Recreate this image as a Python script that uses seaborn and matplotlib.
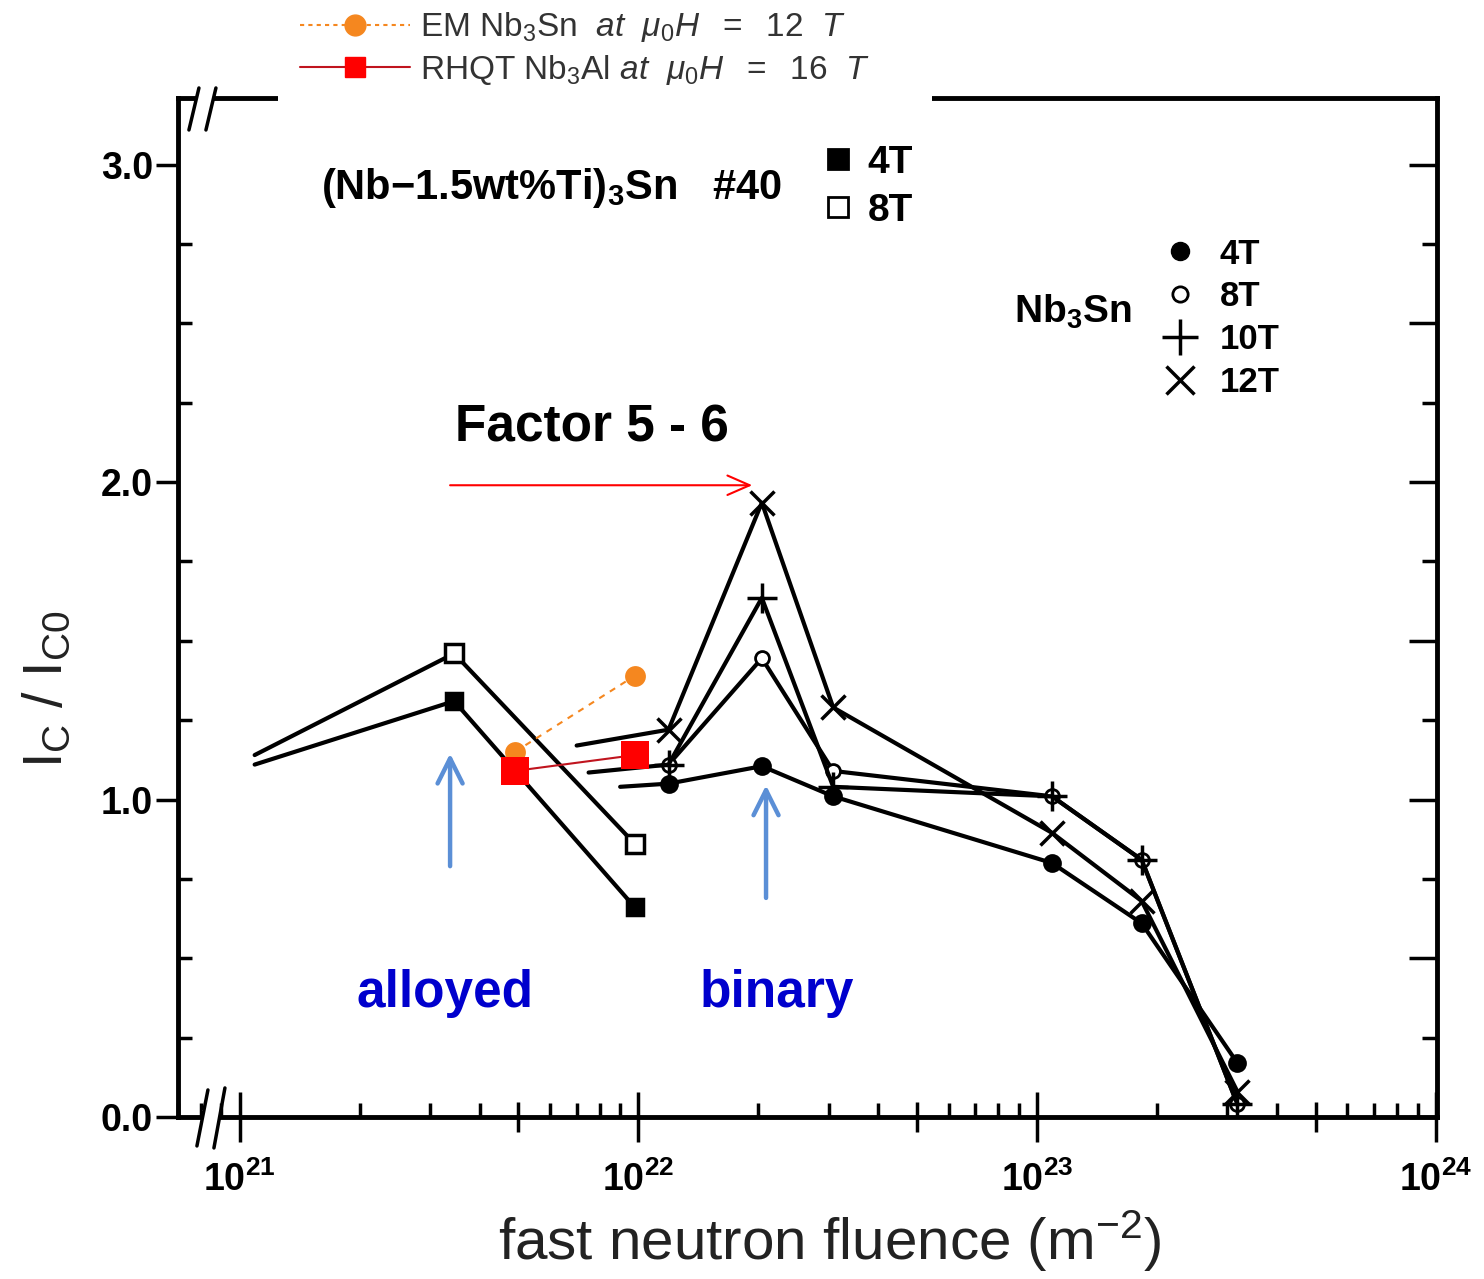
import matplotlib
matplotlib.use('Agg')
import numpy as np
import matplotlib.pyplot as plt
import seaborn as sns
from matplotlib.lines import Line2D
from matplotlib.patches import Rectangle
from matplotlib.ticker import LogLocator, MultipleLocator, FuncFormatter, FixedLocator, NullLocator, NullFormatter

sns.set_style('ticks')
plt.rcParams['font.family'] = ['Liberation Sans', 'DejaVu Sans']
plt.rcParams['mathtext.fontset'] = 'custom'
plt.rcParams['mathtext.rm'] = 'Liberation Sans'
plt.rcParams['mathtext.it'] = 'Liberation Sans:italic'
plt.rcParams['mathtext.bf'] = 'Liberation Sans:bold'
plt.rcParams['text.color'] = 'black'
plt.rcParams['axes.labelcolor'] = 'black'
plt.rcParams['xtick.color'] = 'black'
plt.rcParams['ytick.color'] = 'black'

# --------------------------
# data
# --------------------------
# alloyed (Nb-1.5wt%Ti)3Sn #40, first point is only a lead-in of the line
alloy_fluence = [1.09e21, 3.45e21, 9.8e21]
alloy_4T = [1.11, 1.31, 0.66]
alloy_8T = [1.14, 1.46, 0.86]

# binary Nb3Sn
binary_fluence = [1.19e22, 2.04e22, 3.08e22, 1.09e23, 1.83e23, 3.18e23]
binary_4T = [1.05, 1.105, 1.01, 0.80, 0.61, 0.17]
binary_8T = [1.11, 1.445, 1.09, 1.01, 0.81, 0.04]
binary_10T = [1.11, 1.635, 1.04, 1.01, 0.81, 0.04]
binary_12T = [1.22, 1.935, 1.29, 0.895, 0.68, 0.08]
# lead-in segments on the left of the binary curves (no marker)
lead_4T = (9.0e21, 1.04)
lead_10T = (7.5e21, 1.085)
lead_12T = (7.0e21, 1.17)

# newer conductors
em_fluence = [4.9e21, 9.8e21]
em_12T = [1.15, 1.39]
rhqt_fluence = [4.9e21, 9.8e21]
rhqt_16T = [1.09, 1.14]

orange = '#F5871F'
darkred = '#C0141E'
blue_arrow = '#5B8FD6'
blue_text = '#0000CD'

fig = plt.figure(figsize=(14.84, 12.79), dpi=100)
ax = fig.add_axes([0.1199, 0.1267, 0.8484, 0.7967])
ax.set_xscale('log')


def curve(x, y, marker, ms, mfc, mew=2.5, every=None, color='black', lw=3, ls='-', mec=None, z=3):
    sns.lineplot(x=x, y=y, ax=ax, color=color, linewidth=lw, linestyle=ls,
                 marker=marker, markersize=ms, markerfacecolor=mfc,
                 markeredgecolor=mec if mec else color, markeredgewidth=mew,
                 markevery=every, zorder=z)


# alloyed
curve(alloy_fluence, alloy_4T, 's', 12, 'black', every=[1, 2])
curve(alloy_fluence, alloy_8T, 's', 13, 'white', every=[1, 2])

# binary
curve([lead_4T[0]] + binary_fluence, [lead_4T[1]] + binary_4T, 'o', 11, 'black', every=list(range(1, 7)))
curve(binary_fluence, binary_8T, 'o', 10, 'white', mew=2)
curve([lead_10T[0]] + binary_fluence, [lead_10T[1]] + binary_10T, '+', 22, 'black', every=list(range(1, 7)))
curve([lead_12T[0]] + binary_fluence, [lead_12T[1]] + binary_12T, 'x', 17, 'black', every=list(range(1, 7)))

# EM Nb3Sn and RHQT Nb3Al
curve(em_fluence, em_12T, 'o', 15, orange, color=orange, lw=1.5, ls=(0, (3, 3)), mew=0, z=5)
curve(rhqt_fluence, rhqt_16T, 's', 20, 'red', color=darkred, lw=1.5, mec='red', mew=0, z=5)

# axes limits and ticks
ax.set_xlim(10 ** 20.845, 10 ** 24.003)
ax.set_ylim(0, 3.21)
ax.xaxis.set_major_locator(LogLocator(base=10, numticks=10))
ax.xaxis.set_minor_locator(LogLocator(base=10, subs=(2, 3, 4, 6, 7, 8, 9), numticks=20))
ax.xaxis.set_minor_formatter(NullFormatter())
ax.xaxis.set_major_formatter(FuncFormatter(lambda v, _: r'$\mathbf{10^{%d}}$' % round(np.log10(v))))
ax.tick_params(axis='x', which='major', direction='inout', length=36, width=2.5, labelsize=27, pad=14)
ax.tick_params(axis='x', which='minor', direction='in', length=10, width=2.5)

ax.yaxis.set_major_locator(MultipleLocator(1.0))
ax.yaxis.set_minor_locator(MultipleLocator(0.25))
ax.yaxis.set_major_formatter(FuncFormatter(lambda v, _: '%.1f' % v))
ax.tick_params(axis='y', which='major', direction='out', length=16, width=2.5, labelsize=27, pad=2)
ax.tick_params(axis='y', which='minor', direction='in', length=10, width=2.5)
ax.tick_params(axis='both', top=False, right=False)
for lab in ax.get_yticklabels() + ax.get_xticklabels():
    lab.set_fontweight('bold')

# ticks at 5 x 10^n reaching below the axis
sec_x = ax.secondary_xaxis('bottom')
sec_x.xaxis.set_major_locator(FixedLocator([5e21, 5e22, 5e23]))
sec_x.xaxis.set_minor_locator(NullLocator())
sec_x.tick_params(which='major', direction='inout', length=22, width=2.5, labelbottom=False)
sec_x.spines['bottom'].set_visible(False)

# right axis ticks
sec_y = ax.secondary_yaxis('right')
sec_y.yaxis.set_major_locator(MultipleLocator(0.5))
sec_y.yaxis.set_minor_locator(MultipleLocator(0.25))
sec_y.tick_params(which='major', direction='in', length=20, width=2.5, labelright=False)
sec_y.tick_params(which='minor', direction='in', length=11, width=2.5)
sec_y.spines['right'].set_visible(False)

for s in ax.spines.values():
    s.set_linewidth(3.5)
    s.set_color('black')

ax.set_ylabel(r'I$_{\mathrm{C}}$ / I$_{\mathrm{C0}}$', fontsize=40, color='#222222')
ax.yaxis.set_label_coords(-0.082, 0.42)
ax.set_xlabel(r'fast neutron fluence (m$^{-2}$)', fontsize=42, color='#222222')
ax.xaxis.set_label_coords(0.518, -0.09)


# axis break marks
def axp(px, py):
    return ((px - 178) / 1259, (1117 - py) / 1019)


for (gx0, gx1, gy), slashes in [((202, 219, 1117), [((197, 1146), (208, 1090)), ((214, 1148), (225, 1088))]),
                                ((196, 213, 98), [((189, 130), (199, 88)), ((206, 130), (216, 88))])]:
    x0, y0 = axp(gx0, gy + 7)
    x1, y1 = axp(gx1, gy - 7)
    ax.add_patch(Rectangle((x0, y0), x1 - x0, y1 - y0, transform=ax.transAxes,
                           facecolor='white', edgecolor='none', clip_on=False, zorder=6))
    for a, b in slashes:
        pa, pb = axp(*a), axp(*b)
        ax.add_line(Line2D([pa[0], pb[0]], [pa[1], pb[1]], transform=ax.transAxes,
                           color='black', lw=2.5, clip_on=False, zorder=7))

# annotations
ax.text(3.46e21, 2.17, 'Factor 5 - 6', fontsize=37, fontweight='bold', ha='left', va='center')
ax.annotate('', xy=(1.93e22, 1.99), xytext=(3.37e21, 1.99),
            arrowprops=dict(arrowstyle='->,head_length=0.8,head_width=0.35', color='red',
                            lw=1.5, mutation_scale=20, shrinkA=0, shrinkB=0))
ax.annotate('', xy=(3.37e21, 1.145), xytext=(3.37e21, 0.79),
            arrowprops=dict(arrowstyle='->,head_length=0.9,head_width=0.45', color=blue_arrow,
                            lw=3.2, mutation_scale=20, shrinkA=0, shrinkB=0))
ax.annotate('', xy=(2.09e22, 1.045), xytext=(2.09e22, 0.69),
            arrowprops=dict(arrowstyle='->,head_length=0.9,head_width=0.45', color=blue_arrow,
                            lw=3.2, mutation_scale=20, shrinkA=0, shrinkB=0))
ax.text(3.27e21, 0.39, 'alloyed', fontsize=37, fontweight='bold', color=blue_text, ha='center', va='center')
ax.text(2.23e22, 0.39, 'binary', fontsize=37, fontweight='bold', color=blue_text, ha='center', va='center')

ax.text(0.114, 0.912, r'(Nb$\mathbf{-}$1.5wt%Ti)$_{\mathbf{3}}$Sn   #40', transform=ax.transAxes,
        fontsize=30, fontweight='bold', ha='left', va='center')
ax.text(0.664, 0.79, r'Nb$_{\mathbf{3}}$Sn', transform=ax.transAxes,
        fontsize=28, fontweight='bold', ha='left', va='center')

# marker keys inside the frame
sq_handles = [Line2D([], [], ls='none', marker='s', ms=15, mfc='black', mec='black', mew=2),
              Line2D([], [], ls='none', marker='s', ms=15, mfc='white', mec='black', mew=2)]
leg1 = ax.legend(sq_handles, ['4T', '8T'], loc='upper left', bbox_to_anchor=(0.512, 0.954),
                 frameon=False, prop={'weight': 'bold', 'size': 28}, handlelength=0.8,
                 handletextpad=0.35, labelspacing=0.3, borderpad=0, borderaxespad=0)
ax.add_artist(leg1)
nb_handles = [Line2D([], [], ls='none', marker='o', ms=13, mfc='black', mec='black'),
              Line2D([], [], ls='none', marker='o', ms=11, mfc='white', mec='black', mew=2),
              Line2D([], [], ls='none', marker='+', ms=26, mec='black', mew=2.5),
              Line2D([], [], ls='none', marker='x', ms=20, mec='black', mew=2.5)]
ax.legend(nb_handles, ['4T', '8T', '10T', '12T'], loc='upper left', bbox_to_anchor=(0.775, 0.863),
          frameon=False, prop={'weight': 'bold', 'size': 25}, handlelength=1.5,
          handletextpad=0.4, labelspacing=0.28, borderpad=0, borderaxespad=0)

# legend pasted above the frame, hiding part of the top spine
fig.add_artist(Rectangle((278 / 1484, (1279 - 106) / 1279), (932 - 278) / 1484, 106 / 1279,
                         transform=fig.transFigure, facecolor='white', edgecolor='none', zorder=10))
top_handles = [Line2D([], [], color=orange, lw=1.5, ls=(0, (2, 2)), marker='o', ms=15,
                      mfc=orange, mec=orange),
               Line2D([], [], color=darkred, lw=1.5, marker='s', ms=15, mfc='red', mec='red')]
top_leg = fig.legend(top_handles,
                     [r'EM Nb$_3$Sn  $\mathit{at\ \ \mu_0H\ \ =\ \ 12\ \ T}$',
                      r'RHQT Nb$_3$Al $\mathit{at\ \ \mu_0H\ \ =\ \ 16\ \ T}$'],
                     loc='upper left', bbox_to_anchor=(300 / 1484, 0.992), frameon=False,
                     fontsize=24, handlelength=3.3, handletextpad=0.3, labelspacing=0.25,
                     borderpad=0, borderaxespad=0)
for t in top_leg.get_texts():
    t.set_color('#333333')
top_leg.set_zorder(11)

fig.savefig('out.png', dpi=100)
